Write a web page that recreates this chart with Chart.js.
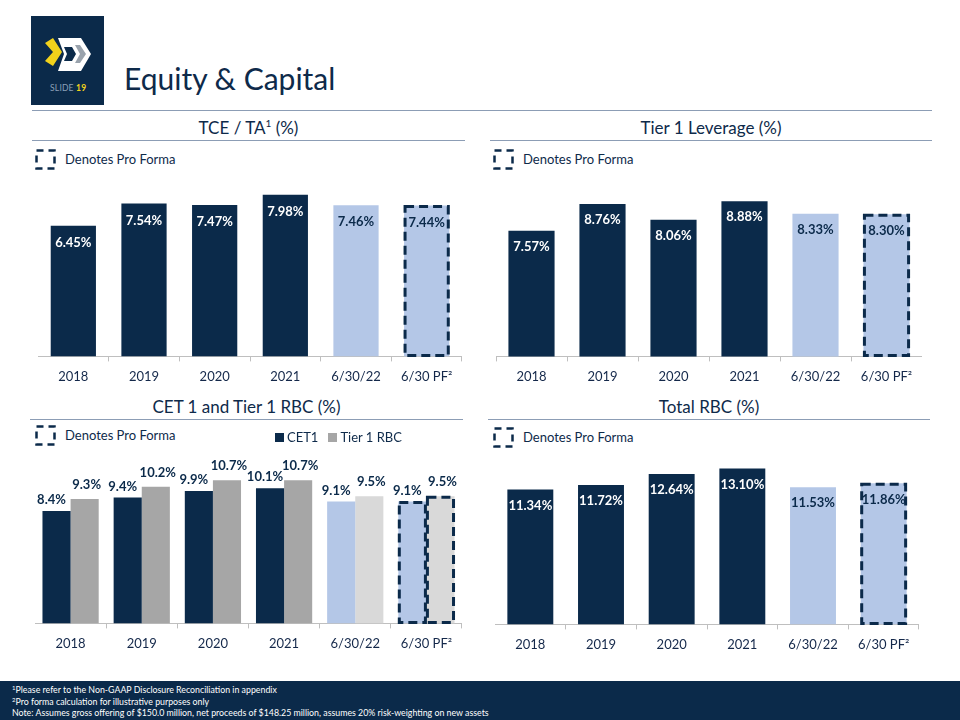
<!DOCTYPE html>
<html><head><meta charset="utf-8">
<script src="https://cdn.jsdelivr.net/npm/chart.js@4.4.0/dist/chart.umd.min.js"></script>
<style>
body{margin:0;width:960px;height:720px;position:relative;background:#fff;font-family:Lato,"Noto Sans",sans-serif;overflow:hidden;}
.a{position:absolute;}
.sec{position:absolute;color:#0e2a4a;font-size:17px;text-align:center;white-space:nowrap;}
.rule{position:absolute;height:0;border-top:1.5px solid #8c9db5;}
.pf{position:absolute;font-size:13px;color:#0e2a4a;white-space:nowrap;}
.pf svg{position:absolute;left:0;top:-2px;}
.pf span{position:absolute;left:30px;top:0;}
canvas{position:absolute;}
.foot{position:absolute;left:0;top:681px;width:960px;height:39px;background:#0b2a4a;color:#fff;font-size:8.8px;line-height:11.5px;}
.foot div{padding-left:12px;white-space:nowrap;height:11.5px;}
.foot .s{font-size:6px;position:relative;top:-3px;line-height:0;}
.leg{position:absolute;font-size:13px;color:#0e2a4a;white-space:nowrap;}
.leg i{display:inline-block;width:9px;height:9px;margin-right:3px;vertical-align:0px;}
</style></head>
<body>
<!-- logo -->
<div class="a" style="left:31px;top:16px;width:73px;height:89px;background:#0b2a4a;">
<svg width="73" height="89" viewBox="31 16 73 89" style="position:absolute;left:0;top:0">
<polygon points="45,43 53,38 62,52 53,66 45,61 53,52" fill="#f2d21b"/>
<polygon points="58,38 81,38 91,54 81,71 58,71 64,54" fill="#ffffff"/>
<polygon points="75,45 80,45 86,54 80,63 75,63 80,54" fill="#9aa3ad"/>
<polygon points="64,47 72,47 76,54 72,61 64,61 67,54" fill="#0b2a4a"/>
</svg>
<div class="a" style="left:19px;top:67px;font-size:8.5px;color:#8da0b8;letter-spacing:0.2px;white-space:nowrap;">SLIDE <b style="color:#f2d21b">19</b></div>
</div>
<div class="a" style="left:124px;top:60px;font-size:30px;color:#0e2a4a;white-space:nowrap;">Equity &amp; Capital</div>
<div class="rule" style="left:32px;top:110px;width:900px;"></div>

<!-- section titles -->
<div class="sec" style="left:32px;top:117px;width:433px;">TCE / TA<sup style="font-size:10px">1</sup> (%)</div>
<div class="rule" style="left:32px;top:140px;width:433px;"></div>
<div class="sec" style="left:490px;top:117px;width:442px;">Tier 1 Leverage (%)</div>
<div class="rule" style="left:490px;top:140px;width:442px;"></div>
<div class="sec" style="left:30px;top:396px;width:433px;">CET 1 and Tier 1 RBC (%)</div>
<div class="rule" style="left:30px;top:419px;width:433px;"></div>
<div class="sec" style="left:488px;top:396px;width:442px;">Total RBC (%)</div>
<div class="rule" style="left:488px;top:419px;width:442px;"></div>

<!-- pro forma notes -->
<div class="pf" style="left:35px;top:151px;"><svg width="22" height="22"><rect x="1.5" y="1.5" width="18" height="18" fill="none" stroke="#0b2a4a" stroke-width="2.5" stroke-dasharray="7,5"/></svg><span>Denotes Pro Forma</span></div>
<div class="pf" style="left:493px;top:151px;"><svg width="22" height="22"><rect x="1.5" y="1.5" width="18" height="18" fill="none" stroke="#0b2a4a" stroke-width="2.5" stroke-dasharray="7,5"/></svg><span>Denotes Pro Forma</span></div>
<div class="pf" style="left:35px;top:427px;"><svg width="22" height="22"><rect x="1.5" y="1.5" width="18" height="18" fill="none" stroke="#0b2a4a" stroke-width="2.5" stroke-dasharray="7,5"/></svg><span>Denotes Pro Forma</span></div>
<div class="pf" style="left:493px;top:429px;"><svg width="22" height="22"><rect x="1.5" y="1.5" width="18" height="18" fill="none" stroke="#0b2a4a" stroke-width="2.5" stroke-dasharray="7,5"/></svg><span>Denotes Pro Forma</span></div>

<canvas id="c1" class="a" style="left:38px;top:174px;" width="424" height="219"></canvas>
<canvas id="c2" class="a" style="left:496px;top:176px;" width="426" height="217"></canvas>
<canvas id="c3" class="a" style="left:35px;top:436px;" width="427" height="224"></canvas>
<canvas id="c4" class="a" style="left:495px;top:446px;" width="424" height="215"></canvas>

<div class="leg" style="left:275px;top:429px;"><i style="background:#0b2a4a"></i>CET1 &nbsp;&nbsp;<i style="background:#a6a6a6"></i>Tier 1 RBC</div>

<div class="foot">
<div style="margin-top:3px"><span class="s">1</span>Please refer to the Non-GAAP Disclosure Reconciliation in appendix</div>
<div><span class="s">2</span>Pro forma calculation for illustrative purposes only</div>
<div>Note: Assumes gross offering of $150.0 million, net proceeds of $148.25 million, assumes 20% risk-weighting on new assets</div>
</div>

<script>
const categories = ['2018','2019','2020','2021','6/30/22','6/30 PF²'];
const tceTa = [6.45,7.54,7.47,7.98,7.46,7.44];
const tier1Leverage = [7.57,8.76,8.06,8.88,8.33,8.30];
const cet1 = [8.4,9.4,9.9,10.1,9.1,9.1];
const tier1Rbc = [9.3,10.2,10.7,10.7,9.5,9.5];
const totalRbc = [11.34,11.72,12.64,13.10,11.53,11.86];
const proFormaIndex = [5];

const NAVY = '#0b2a4a', LIGHT = '#b4c7e7', GREY = '#a6a6a6', LGREY = '#d9d9d9';
const navyCols = [NAVY,NAVY,NAVY,NAVY,LIGHT,LIGHT];
const greyCols = [GREY,GREY,GREY,GREY,LGREY,LGREY];

const labelPlugin = {
  id:'vlabels',
  afterDatasetsDraw(chart, args, opts){
    const ctx = chart.ctx;
    const bottom = chart.chartArea.bottom;
    chart.data.datasets.forEach((ds, di)=>{
      const meta = chart.getDatasetMeta(di);
      meta.data.forEach((bar, i)=>{
        const p = bar.getProps(['x','y','base','width'], true);
        if (proFormaIndex.includes(i)) {
          const base = Math.min(p.base, bottom);
          ctx.save(); ctx.setLineDash([9,5]); ctx.lineWidth = 3; ctx.strokeStyle = NAVY;
          ctx.strokeRect(p.x - p.width/2 + 1, p.y + 1, p.width - 2, base - p.y - 2);
          ctx.restore();
        }
      });
    });
    chart.data.datasets.forEach((ds, di)=>{
      const meta = chart.getDatasetMeta(di);
      const dx = (opts.dx || [])[di] || 0;
      const off = Array.isArray(opts.offset) ? opts.offset[di] : opts.offset;
      meta.data.forEach((bar, i)=>{
        const p = bar.getProps(['x','y','base','width'], true);
        const v = ds.data[i];
        ctx.save();
        ctx.font = 'bold 13px Lato';
        ctx.textAlign = 'center'; ctx.textBaseline = 'middle';
        ctx.fillStyle = opts.inside ? (i < 4 ? '#ffffff' : NAVY) : NAVY;
        const ly = opts.inside ? p.y + off : p.y - off;
        ctx.fillText(v.toFixed(opts.decimals) + '%', p.x + dx, ly);
        ctx.restore();
      });
    });
  }
};

function makeChart(id, datasets, ymin, ymax, lab, catPct, barPct){
  return new Chart(document.getElementById(id), {
    type:'bar',
    data:{labels:categories, datasets},
    options:{
      responsive:false, animation:false,
      layout:{padding:0},
      datasets:{bar:{categoryPercentage:catPct, barPercentage:barPct}},
      plugins:{legend:{display:false}, tooltip:{enabled:false}, vlabels:lab},
      scales:{
        x:{
          grid:{display:true, drawOnChartArea:false, drawTicks:true, tickLength:5, color:'#bfbfbf', offset:true},
          border:{color:'#bfbfbf', width:1},
          ticks:{color:'#14284a', font:{family:'Lato', size:13}, padding:8, maxRotation:0}
        },
        y:{display:false, min:ymin, max:ymax}
      }
    },
    plugins:[labelPlugin]
  });
}

makeChart('c1', [{label:'TCE / TA', data:tceTa, backgroundColor:navyCols}], 0, 9,
  {inside:true, offset:17, decimals:2}, 0.64, 1);
makeChart('c2', [{label:'Tier 1 Leverage', data:tier1Leverage, backgroundColor:navyCols}], 2, 10,
  {inside:true, offset:16, decimals:2}, 0.65, 1);
makeChart('c3', [
  {label:'CET1', data:cet1, backgroundColor:navyCols},
  {label:'Tier 1 RBC', data:tier1Rbc, backgroundColor:greyCols}
], 0, 14, {inside:false, offset:[11,14], dx:[-5,2], decimals:1}, 0.79, 1);
makeChart('c4', [{label:'Total RBC', data:totalRbc, backgroundColor:navyCols}], 0, 15,
  {inside:true, offset:16, decimals:2}, 0.65, 1);
</script>
</body></html>
